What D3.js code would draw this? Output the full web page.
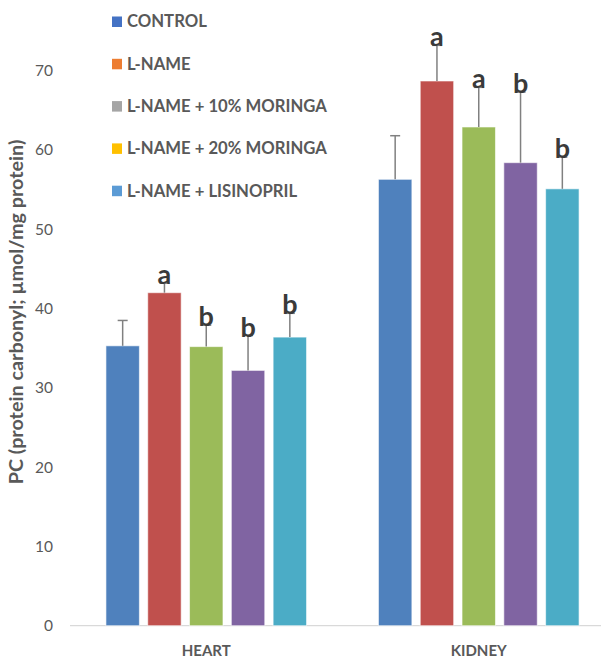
<!DOCTYPE html>
<html><head><meta charset="utf-8">
<script src="https://cdn.jsdelivr.net/npm/d3@7"></script>
<style>body{margin:0;background:#fff}svg{display:block}</style>
</head><body>
<script>
const categories = ["HEART", "KIDNEY"];
const seriesNames = ["CONTROL", "L-NAME", "L-NAME + 10% MORINGA", "L-NAME + 20% MORINGA", "L-NAME + LISINOPRIL"];
const heartMeans = [35.3, 42.0, 35.2, 32.2, 36.4];
const heartErrors = [3.2, 1.2, 2.7, 4.4, 3.0];
const heartLetters = ["", "a", "b", "b", "b"];
const kidneyMeans = [56.3, 68.7, 62.9, 58.4, 55.1];
const kidneyErrors = [5.5, 4.5, 5.0, 8.9, 4.0];
const kidneyLetters = ["", "a", "a", "b", "b"];
const yTicks = [0, 10, 20, 30, 40, 50, 60, 70];
const barColors = ["#4F81BD", "#C0504D", "#9BBB59", "#8064A2", "#4BACC6"];
const legendColors = ["#4472C4", "#ED7D31", "#A5A5A5", "#FFC000", "#5B9BD5"];

const means = [heartMeans, kidneyMeans];
const errors = [heartErrors, kidneyErrors];
const letters = [heartLetters, kidneyLetters];

const W = 601, H = 658;
const FONT = "Lato, 'Open Sans', sans-serif";
const svg = d3.select("body").append("svg").attr("width", W).attr("height", H);

function fitFont(sel, target) {
  const n = sel.node();
  const fs = parseFloat(sel.style("font-size"));
  const len = n.getComputedTextLength();
  sel.style("font-size", (fs * target / len) + "px");
}

const x0 = d3.scaleBand().domain(categories).range([70, 615]).padding(0);
const x1 = d3.scaleBand().domain(seriesNames).range([0, x0.bandwidth()]).paddingInner(0.2).paddingOuter(0.86);
const y = d3.scaleLinear().domain([0, 70]).range([625.7, 70.7]);

// y tick labels
svg.append("g").selectAll("text").data(yTicks).join("text")
  .attr("x", 53).attr("y", d => y(d)).attr("dy", "0.35em")
  .attr("text-anchor", "end").attr("fill", "#595959")
  .style("font-family", FONT).style("font-size", "15.5px").text(d => d);

// y title
const yt = svg.append("text").attr("transform", "translate(23,312) rotate(-90)")
  .attr("text-anchor", "middle").attr("fill", "#595959")
  .style("font-family", FONT).style("font-size", "15px").style("font-weight", "bold")
  .text("PC (protein carbonyl; µmol/mg protein)");
fitFont(yt, 345);

// baseline
svg.append("line").attr("x1", 70).attr("x2", W).attr("y1", y(0)).attr("y2", y(0))
  .attr("stroke", "#D9D9D9").attr("stroke-width", 1.2);

const rows = [];
categories.forEach((c, ci) => seriesNames.forEach((s, si) => rows.push({
  c, s, si, v: means[ci][si], e: errors[ci][si], l: letters[ci][si]
})));

const g = svg.append("g");
g.selectAll("rect").data(rows).join("rect")
  .attr("x", d => x0(d.c) + x1(d.s)).attr("width", x1.bandwidth())
  .attr("y", d => y(d.v)).attr("height", d => y(0) - y(d.v))
  .attr("fill", d => barColors[d.si]).attr("stroke", "#ffffff").attr("stroke-opacity", 0.6).attr("stroke-width", 1);

// error bars
const eb = svg.append("g").attr("stroke", "#808080").attr("stroke-width", 1.5);
rows.forEach(d => {
  const cx = x0(d.c) + x1(d.s) + x1.bandwidth() / 2;
  eb.append("line").attr("x1", cx).attr("x2", cx).attr("y1", y(d.v)).attr("y2", y(d.v + d.e));
  eb.append("line").attr("x1", cx - 5).attr("x2", cx + 5).attr("y1", y(d.v + d.e)).attr("y2", y(d.v + d.e));
});

// letters
svg.append("g").selectAll("text").data(rows.filter(d => d.l)).join("text")
  .attr("x", d => x0(d.c) + x1(d.s) + x1.bandwidth() / 2)
  .attr("y", d => y(d.v + d.e) + 1)
  .attr("text-anchor", "middle").attr("fill", "#3A3A3A")
  .style("font-family", FONT).style("font-size", "27px").style("font-weight", "bold")
  .text(d => d.l);

// category labels
svg.append("g").selectAll("text").data(categories).join("text")
  .attr("x", d => x0(d) + x0.bandwidth() / 2)
  .attr("y", 656).attr("text-anchor", "middle").attr("fill", "#595959")
  .style("font-family", FONT).style("font-size", "15px").style("font-weight", "bold")
  .text(d => d);

// legend
const lg = svg.append("g");
let legendFont = 15.5;
seriesNames.forEach((s, i) => {
  const cy = 21.5 + i * 42.3;
  lg.append("rect").attr("x", 112).attr("y", cy - 5).attr("width", 10).attr("height", 10.5).attr("fill", legendColors[i]);
  lg.append("text").attr("class", "lt").attr("x", 127).attr("y", cy).attr("dy", "0.35em").attr("fill", "#595959")
    .style("font-family", FONT).style("font-size", legendFont + "px").style("font-weight", "bold").text(s);
});
const ref = lg.selectAll("text.lt").filter((d, i) => i === 2);
const len = ref.node().getComputedTextLength();
lg.selectAll("text.lt").style("font-size", (legendFont * 200 / len) + "px");
</script>
</body></html>
